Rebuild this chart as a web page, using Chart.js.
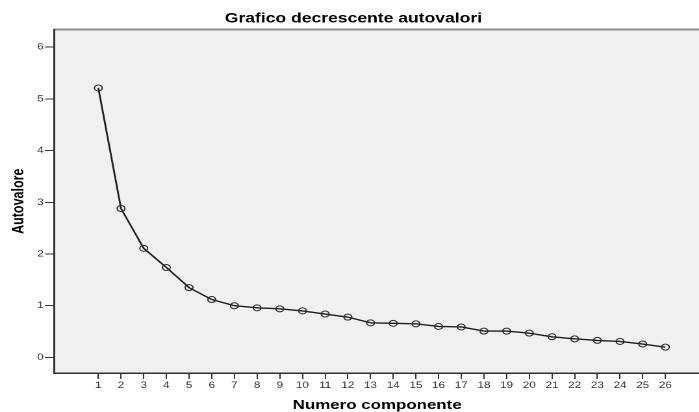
<!DOCTYPE html>
<html>
<head>
<meta charset="utf-8">
<script src="https://cdn.jsdelivr.net/npm/chart.js@4"></script>
<style>
  html, body { margin: 0; padding: 0; background: #ffffff; overflow: hidden; }
  #wrap { width: 699px; height: 412px; overflow: hidden; }
  #c { transform: scaleX(1.2993); transform-origin: 0 0; }
</style>
</head>
<body>
<div id="wrap"><canvas id="c" width="544" height="412"></canvas></div>
<script>
// ---- data ----
const components = [1,2,3,4,5,6,7,8,9,10,11,12,13,14,15,16,17,18,19,20,21,22,23,24,25,26];
const eigenvalues = [5.21, 2.88, 2.11, 1.74, 1.35, 1.12, 1.00, 0.96, 0.94, 0.90, 0.84, 0.78,
                     0.67, 0.66, 0.65, 0.60, 0.59, 0.51, 0.51, 0.47, 0.40, 0.36, 0.33, 0.31, 0.26, 0.20];
const yTickValues = [0, 1, 2, 3, 4, 5, 6];
const chartTitle = 'Grafico decrescente autovalori';
const xTitle = 'Numero componente';
const yTitle = 'Autovalore';

Chart.defaults.font.family = "'Liberation Sans', Arial, sans-serif";

const plotBg = {
  id: 'plotBg',
  beforeDraw(chart) {
    const { ctx, chartArea: a } = chart;
    ctx.save();
    ctx.fillStyle = '#f0f0f0';
    ctx.fillRect(a.left, a.top, chart.width - a.left, a.bottom - a.top);
    ctx.strokeStyle = '#8a8a8a';
    ctx.lineWidth = 2;
    ctx.beginPath();
    ctx.moveTo(a.left, a.top);
    ctx.lineTo(chart.width, a.top);
    ctx.stroke();
    ctx.restore();
  }
};

new Chart(document.getElementById('c'), {
  type: 'line',
  data: {
    datasets: [{
      data: components.map((c, i) => ({ x: c, y: eigenvalues[i] })),
      borderColor: '#1e1e1e',
      borderWidth: 1.4,
      tension: 0,
      pointRadius: 3,
      pointBorderWidth: 1,
      pointBorderColor: '#2a2a2a',
      pointBackgroundColor: 'rgba(0,0,0,0)',
      fill: false
    }]
  },
  options: {
    responsive: false,
    animation: false,
    devicePixelRatio: 2,
    layout: { padding: 0 },
    plugins: {
      legend: { display: false },
      tooltip: { enabled: false },
      title: {
        display: true,
        text: chartTitle,
        color: '#000',
        font: { size: 13.5, weight: 'bold', lineHeight: 1.2 },
        padding: { top: 10.9, bottom: 2.4 }
      }
    },
    scales: {
      x: {
        type: 'linear',
        min: -0.952,
        max: 27.54,
        afterBuildTicks: s => { s.ticks = components.map(v => ({ value: v })); },
        afterFit: s => { s.height = 39; },
        ticks: { color: '#333', font: { size: 9 }, padding: 1, autoSkip: false, maxRotation: 0 },
        grid: { drawOnChartArea: false, drawTicks: true, tickLength: 6, color: '#333', tickWidth: 1 },
        border: { color: '#333', width: 1.5 },
        title: {
          display: true, text: xTitle, color: '#000',
          font: { size: 13, weight: 'bold', lineHeight: 1 },
          padding: { top: 0, bottom: 0 }
        }
      },
      y: {
        min: -0.3,
        max: 6.34,
        afterBuildTicks: s => { s.ticks = yTickValues.map(v => ({ value: v })); },
        afterFit: s => { s.width = 41.6; },
        ticks: { color: '#333', font: { size: 9 }, padding: 1 },
        grid: { drawOnChartArea: false, drawTicks: true, tickLength: 7, color: '#333', tickWidth: 1 },
        border: { color: '#333', width: 1.5 },
        title: {
          display: true, text: yTitle, color: '#000',
          font: { size: 12.5, weight: 'bold', lineHeight: 1 },
          padding: { top: 8.4, bottom: 0 }
        }
      }
    }
  },
  plugins: [plotBg]
});
</script>
</body>
</html>
